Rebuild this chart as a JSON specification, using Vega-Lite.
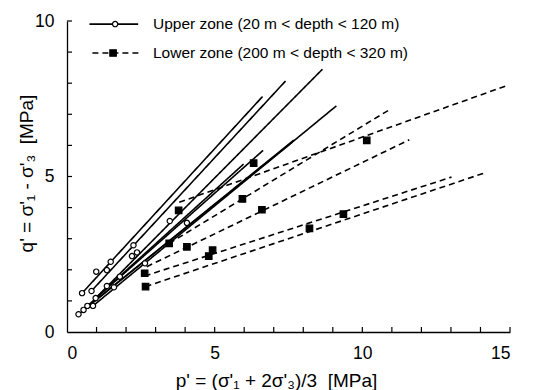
{
  "$schema": "https://vega.github.io/schema/vega-lite/v6.json",
  "width": 443,
  "height": 311,
  "autosize": {"type": "none"},
  "padding": {"left": 67, "top": 21, "right": 29, "bottom": 58},
  "config": {
    "view": {"stroke": null},
    "font": "Liberation Sans",
    "axis": {
      "grid": false,
      "domainColor": "#000",
      "domainWidth": 1.3,
      "labelColor": "#000",
      "labelFontSize": 17.5,
      "titleColor": "#000",
      "titleFontSize": 19,
      "titleFontWeight": "normal"
    }
  },
  "datasets": {
    "lines": [
      {"id": "S1", "zone": "Upper", "x": 0.51, "y": 1.25}, {"id": "S1", "zone": "Upper", "x": 6.62, "y": 7.57},
      {"id": "S2", "zone": "Upper", "x": 0.83, "y": 1.32}, {"id": "S2", "zone": "Upper", "x": 7.4, "y": 8.07},
      {"id": "S3", "zone": "Upper", "x": 0.97, "y": 1.09}, {"id": "S3", "zone": "Upper", "x": 8.65, "y": 8.45},
      {"id": "S4", "zone": "Upper", "x": 0.88, "y": 0.84}, {"id": "S4", "zone": "Upper", "x": 9.12, "y": 7.27},
      {"id": "S5", "zone": "Upper", "x": 0.39, "y": 0.57}, {"id": "S5", "zone": "Upper", "x": 7.68, "y": 6.17},
      {"id": "S6", "zone": "Upper", "x": 0.56, "y": 0.71}, {"id": "S6", "zone": "Upper", "x": 7.62, "y": 6.1},
      {"id": "S7", "zone": "Upper", "x": 0.69, "y": 0.84}, {"id": "S7", "zone": "Upper", "x": 6.64, "y": 5.84},
      {"id": "S8", "zone": "Upper", "x": 0.97, "y": 1.09}, {"id": "S8", "zone": "Upper", "x": 5.98, "y": 5.4},
      {"id": "D1", "zone": "Lower", "x": 3.8, "y": 4.17}, {"id": "D1", "zone": "Lower", "x": 14.86, "y": 7.91},
      {"id": "D2", "zone": "Lower", "x": 3.46, "y": 2.85}, {"id": "D2", "zone": "Lower", "x": 10.87, "y": 7.12},
      {"id": "D3", "zone": "Lower", "x": 2.7, "y": 2.1}, {"id": "D3", "zone": "Lower", "x": 11.59, "y": 6.18},
      {"id": "D4", "zone": "Lower", "x": 2.66, "y": 1.46}, {"id": "D4", "zone": "Lower", "x": 14.22, "y": 5.14},
      {"id": "D5", "zone": "Lower", "x": 2.63, "y": 1.8}, {"id": "D5", "zone": "Lower", "x": 13.02, "y": 4.98}
    ],
    "pts": [
      {"zone": "Upper", "x": 0.51, "y": 1.25}, {"zone": "Upper", "x": 0.99, "y": 1.94}, {"zone": "Upper", "x": 1.48, "y": 2.26},
      {"zone": "Upper", "x": 0.83, "y": 1.32}, {"zone": "Upper", "x": 1.35, "y": 1.99}, {"zone": "Upper", "x": 2.25, "y": 2.79},
      {"zone": "Upper", "x": 0.97, "y": 1.09}, {"zone": "Upper", "x": 1.35, "y": 1.48}, {"zone": "Upper", "x": 2.2, "y": 2.44},
      {"zone": "Upper", "x": 3.48, "y": 3.57}, {"zone": "Upper", "x": 0.88, "y": 0.84}, {"zone": "Upper", "x": 2.64, "y": 2.21},
      {"zone": "Upper", "x": 4.06, "y": 3.51}, {"zone": "Upper", "x": 0.39, "y": 0.57}, {"zone": "Upper", "x": 1.59, "y": 1.44},
      {"zone": "Upper", "x": 0.56, "y": 0.71}, {"zone": "Upper", "x": 2.37, "y": 2.56}, {"zone": "Upper", "x": 0.69, "y": 0.84},
      {"zone": "Upper", "x": 1.79, "y": 1.78},
      {"zone": "Lower", "x": 2.63, "y": 1.89}, {"zone": "Lower", "x": 2.66, "y": 1.46}, {"zone": "Lower", "x": 3.46, "y": 2.85},
      {"zone": "Lower", "x": 3.78, "y": 3.91}, {"zone": "Lower", "x": 4.06, "y": 2.74}, {"zone": "Lower", "x": 4.8, "y": 2.44},
      {"zone": "Lower", "x": 4.93, "y": 2.63}, {"zone": "Lower", "x": 5.94, "y": 4.28}, {"zone": "Lower", "x": 6.6, "y": 3.93},
      {"zone": "Lower", "x": 6.32, "y": 5.43}, {"zone": "Lower", "x": 8.21, "y": 3.33}, {"zone": "Lower", "x": 9.36, "y": 3.79},
      {"zone": "Lower", "x": 10.15, "y": 6.16}
    ],
    "xticks": [{"x": 1, "y": 0}, {"x": 2, "y": 0}, {"x": 3, "y": 0}, {"x": 4, "y": 0}, {"x": 5, "y": 0}, {"x": 6, "y": 0}, {"x": 7, "y": 0}, {"x": 8, "y": 0}, {"x": 9, "y": 0}, {"x": 10, "y": 0}, {"x": 11, "y": 0}, {"x": 12, "y": 0}, {"x": 13, "y": 0}, {"x": 14, "y": 0}, {"x": 15, "y": 0}],
    "yticks": [{"x": 0, "y": 1}, {"x": 0, "y": 2}, {"x": 0, "y": 3}, {"x": 0, "y": 4}, {"x": 0, "y": 5}, {"x": 0, "y": 6}, {"x": 0, "y": 7}, {"x": 0, "y": 8}, {"x": 0, "y": 9}, {"x": 0, "y": 10}],
    "legRule": [
      {"zone": "Upper", "x": 0.76, "xe": 2.41, "y": 9.9},
      {"zone": "Lower", "x": 0.86, "xe": 2.48, "y": 8.97}
    ],
    "legPt": [
      {"zone": "Upper", "x": 1.63, "y": 9.9},
      {"zone": "Lower", "x": 1.56, "y": 8.97}
    ],
    "legText": [
      {"x": 2.91, "y": 9.9, "label": "Upper zone (20 m < depth < 120 m)"},
      {"x": 2.91, "y": 8.97, "label": "Lower zone (200 m < depth < 320 m)"}
    ]
  },
  "encoding": {
    "x": {
      "field": "x", "type": "quantitative",
      "scale": {"domain": [0, 15], "nice": false, "zero": false},
      "axis": {
        "title": "p' = (σ'₁ + 2σ'₃)/3\u00a0\u00a0[MPa]",
        "values": [0, 5, 10, 15],
        "ticks": false,
        "labelPadding": 12,
        "titleX": 209, "titleY": 48, "titleBaseline": "middle", "titleAlign": "center"
      }
    },
    "y": {
      "field": "y", "type": "quantitative",
      "scale": {"domain": [0, 10], "nice": false, "zero": false},
      "axis": {
        "title": "q' = σ'₁ - σ'₃\u00a0\u00a0[MPa]",
        "values": [0, 5, 10],
        "ticks": false,
        "labelPadding": 13,
        "titleX": -41, "titleY": 152, "titleBaseline": "middle", "titleAlign": "center", "titleAngle": -90
      }
    }
  },
  "layer": [
    {
      "data": {"name": "xticks"},
      "mark": {"type": "rule", "color": "#000", "strokeWidth": 1.2, "opacity": 1},
      "encoding": {"y2": {"datum": 0.16}}
    },
    {
      "data": {"name": "yticks"},
      "mark": {"type": "rule", "color": "#000", "strokeWidth": 1.2, "opacity": 1},
      "encoding": {"x2": {"datum": 0.17}}
    },
    {
      "data": {"name": "lines"},
      "mark": {"type": "line", "color": "#000", "strokeWidth": 1.6},
      "encoding": {
        "detail": {"field": "id", "type": "nominal"},
        "strokeDash": {"field": "zone", "type": "nominal", "scale": {"domain": ["Upper", "Lower"], "range": [[1, 0], [6, 4]]}, "legend": null}
      }
    },
    {
      "data": {"name": "legRule"},
      "mark": {"type": "rule", "color": "#000", "strokeWidth": 1.6},
      "encoding": {
        "x2": {"field": "xe"},
        "strokeDash": {"field": "zone", "type": "nominal", "scale": {"domain": ["Upper", "Lower"], "range": [[1, 0], [6, 4]]}, "legend": null}
      }
    },
    {
      "data": {"name": "pts"},
      "mark": {"type": "point", "stroke": "#000", "strokeWidth": 1.2, "opacity": 1},
      "encoding": {
        "shape": {"field": "zone", "type": "nominal", "scale": {"domain": ["Upper", "Lower"], "range": ["circle", "square"]}, "legend": null},
        "fill": {"field": "zone", "type": "nominal", "scale": {"domain": ["Upper", "Lower"], "range": ["#fff", "#000"]}, "legend": null},
        "size": {"field": "zone", "type": "nominal", "scale": {"domain": ["Upper", "Lower"], "range": [28, 42]}, "legend": null}
      }
    },
    {
      "data": {"name": "legPt"},
      "mark": {"type": "point", "stroke": "#000", "strokeWidth": 1.2, "opacity": 1},
      "encoding": {
        "shape": {"field": "zone", "type": "nominal", "legend": null},
        "fill": {"field": "zone", "type": "nominal", "legend": null},
        "size": {"field": "zone", "type": "nominal", "legend": null}
      }
    },
    {
      "data": {"name": "legText"},
      "mark": {"type": "text", "align": "left", "baseline": "middle", "fontSize": 15.5, "color": "#000"},
      "encoding": {"text": {"field": "label"}}
    }
  ]
}
